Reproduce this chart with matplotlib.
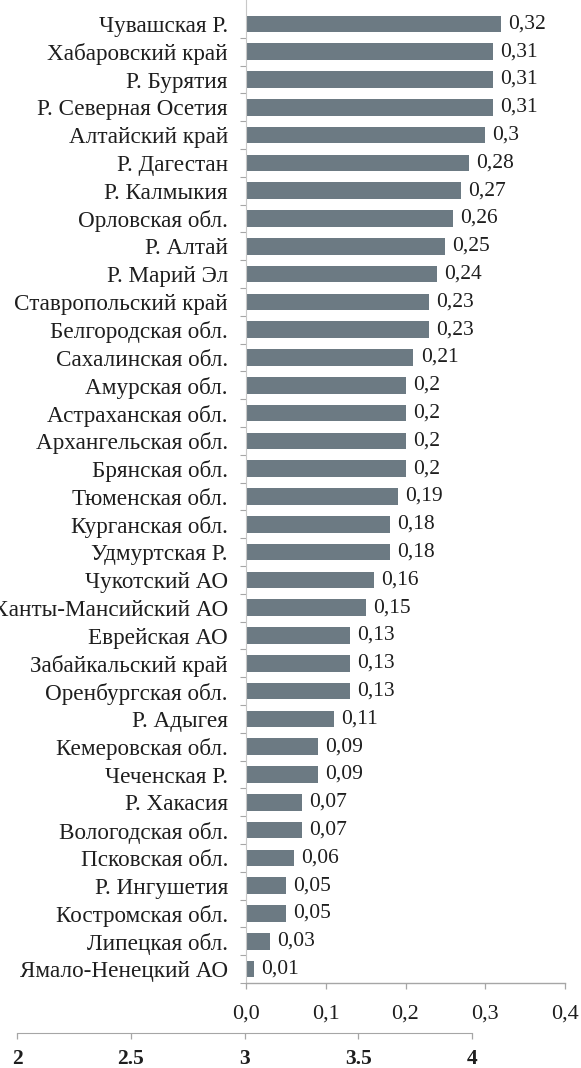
import matplotlib.pyplot as plt
import numpy as np

# регионы сверху вниз, как на картинке
regions = ["Чувашская Р.", "Хабаровский край", "Р. Бурятия", "Р. Северная Осетия",
           "Алтайский край", "Р. Дагестан", "Р. Калмыкия", "Орловская обл.",
           "Р. Алтай", "Р. Марий Эл", "Ставропольский край", "Белгородская обл.",
           "Сахалинская обл.", "Амурская обл.", "Астраханская обл.", "Архангельская обл.",
           "Брянская обл.", "Тюменская обл.", "Курганская обл.", "Удмуртская Р.",
           "Чукотский АО", "Ханты-Мансийский АО", "Еврейская АО", "Забайкальский край",
           "Оренбургская обл.", "Р. Адыгея", "Кемеровская обл.", "Чеченская Р.",
           "Р. Хакасия", "Вологодская обл.", "Псковская обл.", "Р. Ингушетия",
           "Костромская обл.", "Липецкая обл.", "Ямало-Ненецкий АО"]
values = [0.32, 0.31, 0.31, 0.31, 0.3, 0.28, 0.27, 0.26, 0.25, 0.24, 0.23, 0.23,
          0.21, 0.2, 0.2, 0.2, 0.2, 0.19, 0.18, 0.18, 0.16, 0.15, 0.13, 0.13, 0.13,
          0.11, 0.09, 0.09, 0.07, 0.07, 0.06, 0.05, 0.05, 0.03, 0.01]
main_ticks = [0.0, 0.1, 0.2, 0.3, 0.4]
main_ticklabels = ["0,0", "0,1", "0,2", "0,3", "0,4"]
second_ticks = [2, 2.5, 3, 3.5, 4]
second_ticklabels = ["2", "2.5", "3", "3.5", "4"]

plt.rcParams['font.family'] = ['Liberation Serif', 'DejaVu Serif']
txt = '#1e1e1e'
grey = '#a6a6a6'

W, H = 581, 1068
fig = plt.figure(figsize=(W / 100, H / 100), dpi=100)

# основная диаграмма
ax = fig.add_axes([246 / W, (H - 983) / H, (565 - 246) / W, 983 / H])
n = len(regions)
y = np.arange(n)[::-1]
ax.barh(y, values, height=0.6, color='#6c7a83')
for yy, v in zip(y, values):
    ax.text(v + 0.009, yy, f"{v:g}".replace('.', ','), va='center', ha='left',
            fontsize=15.5, color=txt)

ax.set_xlim(0, 0.4)
ax.set_ylim(-0.5, n - 1 + 0.86)
ax.set_yticks(y)
ax.set_yticklabels(regions, fontsize=16.7, color=txt)
ax.set_yticks(np.arange(n) - 0.5, minor=True)
ax.tick_params(axis='y', which='major', length=0, pad=13)
ax.tick_params(axis='y', which='minor', length=4, color=grey, width=0.8)
ax.set_xticks(main_ticks)
ax.set_xticklabels(main_ticklabels, fontsize=16, color=txt)
ax.tick_params(axis='x', length=4.5, color=grey, width=0.9, pad=11)
for s in ['top', 'right']:
    ax.spines[s].set_visible(False)
ax.spines['left'].set_color('#c8c8c8')
ax.spines['left'].set_linewidth(0.8)
ax.spines['bottom'].set_color(grey)
ax.spines['bottom'].set_linewidth(1.0)

# нижняя ось
ax2 = fig.add_axes([17 / W, (H - 1033) / H, (472 - 17) / W, 0.001])
ax2.set_xlim(2, 4)
ax2.set_xticks(second_ticks)
ax2.set_xticklabels(second_ticklabels, fontsize=15.5, color=txt, fontweight='bold')
ax2.set_yticks([])
ax2.tick_params(axis='x', length=4.5, color=grey, width=0.9, pad=7)
for s in ['top', 'right', 'left']:
    ax2.spines[s].set_visible(False)
ax2.spines['bottom'].set_color(grey)
ax2.patch.set_visible(False)

plt.savefig('out.png', dpi=100)
